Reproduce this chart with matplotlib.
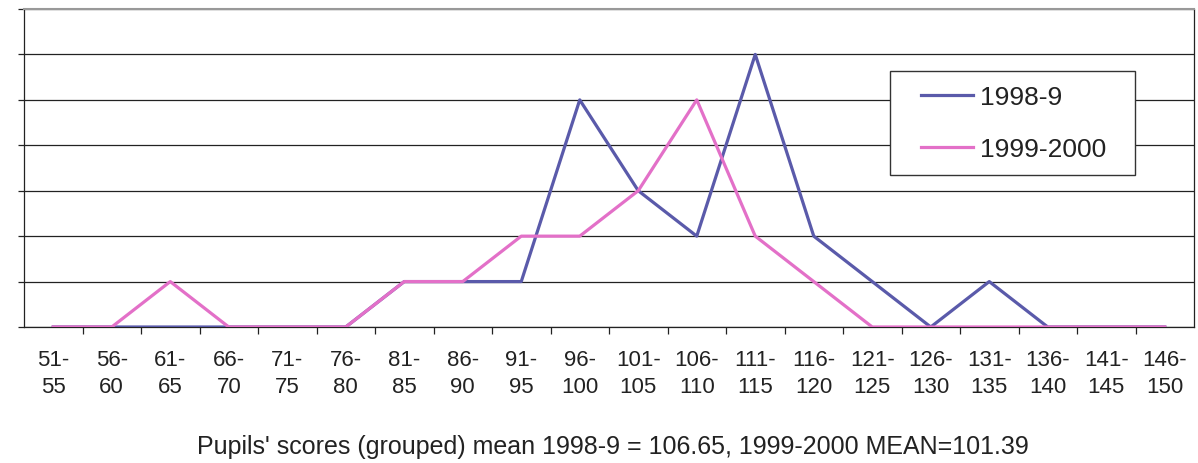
import matplotlib
matplotlib.use("Agg")
import matplotlib.pyplot as plt
from matplotlib.ticker import FixedLocator
from matplotlib.patches import Rectangle

categories = ["51-\n55", "56-\n60", "61-\n65", "66-\n70", "71-\n75", "76-\n80",
              "81-\n85", "86-\n90", "91-\n95", "96-\n100", "101-\n105", "106-\n110",
              "111-\n115", "116-\n120", "121-\n125", "126-\n130", "131-\n135",
              "136-\n140", "141-\n145", "146-\n150"]
series_1998 = [0, 0, 0, 0, 0, 0, 1, 1, 1, 5, 3, 2, 6, 2, 1, 0, 1, 0, 0, 0]
series_1999 = [0, 0, 1, 0, 0, 0, 1, 1, 2, 2, 3, 5, 2, 1, 0, 0, 0, 0, 0, 0]
series_names = ["1998-9", "1999-2000"]
xlabel_text = "Pupils' scores (grouped) mean 1998-9 = 106.65, 1999-2000 MEAN=101.39"

plt.rcParams['font.family'] = ['Liberation Sans', 'DejaVu Sans']

W, H = 1198, 464
fig = plt.figure(figsize=(W / 100, H / 100), dpi=100)
left, right, top, bottom = 24, 1194, 10, 328
ax = fig.add_axes([left / W, 1 - bottom / H, (right - left) / W, (bottom - top) / H])

x = list(range(len(categories)))
ax.plot(x, series_1998, color='#5a5aaa', lw=2.3, label=series_names[0], zorder=3)
ax.plot(x, series_1999, color='#e370c8', lw=2.3, label=series_names[1], zorder=4)

ax.set_xlim(-0.5, len(categories) - 0.5)
ax.set_ylim(0, 7)
ax.yaxis.set_major_locator(FixedLocator(range(0, 8)))
ax.yaxis.grid(True, color='#222222', lw=0.9)
ax.set_axisbelow(True)
ax.set_yticklabels([])
ax.tick_params(axis='y', length=4, width=0.9, color='#222222', direction='out')

ax.set_xticks(x)
ax.set_xticklabels(categories, fontsize=16, linespacing=1.35, color='#222222')
ax.tick_params(axis='x', which='major', length=0, pad=16)
ax.set_xticks([i - 0.5 for i in range(1, len(categories))], minor=True)
ax.tick_params(axis='x', which='minor', length=5, width=0.9, color='#222222', direction='out')

for side in ['left', 'bottom', 'right']:
    ax.spines[side].set_color('#222222')
    ax.spines[side].set_linewidth(0.9)
ax.spines['top'].set_color('#999999')
ax.spines['top'].set_linewidth(1.5)

fig.text(613 / W, 1 - 447 / H, xlabel_text, fontsize=18, color='#222222',
         ha='center', va='center')

# legend frame
bx0, bx1, by0, by1 = 890, 1135, 72, 176
frame = Rectangle((bx0 / W, 1 - by1 / H), (bx1 - bx0) / W, (by1 - by0) / H,
                  transform=fig.transFigure, facecolor='white', edgecolor='#333333',
                  lw=1.0, zorder=5, clip_on=False)
ax.add_patch(frame)
leg = ax.legend(loc='center',
                bbox_to_anchor=(((bx0 + bx1) / 2 + 1 - left) / (right - left),
                                1 - ((by0 + by1) / 2 - top) / (bottom - top)),
                fontsize=19, frameon=False,
                handlelength=1.95, handletextpad=0.27, labelspacing=1.05,
                borderpad=0, borderaxespad=0)
leg.set_zorder(6)
for t in leg.get_texts():
    t.set_color('#222222')

fig.savefig("out.png", dpi=100, facecolor='white')
